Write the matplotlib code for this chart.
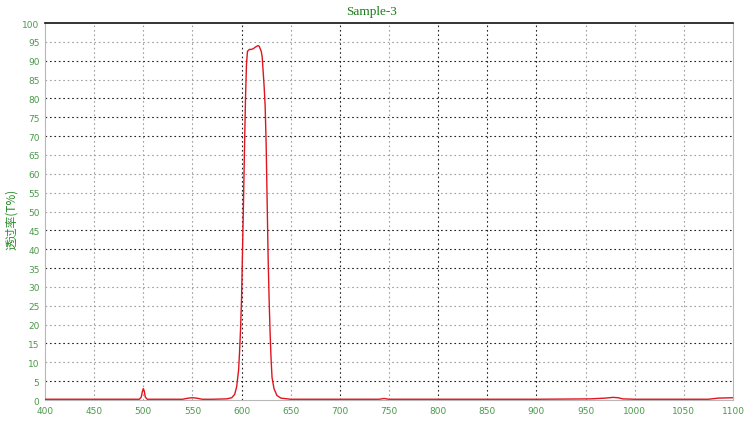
import matplotlib.pyplot as plt

# wavelength (nm) and transmittance (%)
wavelength = [400, 450, 496, 498, 499, 500, 501, 502, 504, 540, 546, 550, 554, 560,
              570, 585, 590, 593, 595, 597, 598, 599, 600, 601, 602, 603, 604, 605,
              606, 608, 610, 612, 614, 616, 617, 618, 620, 621, 622, 623, 624, 625,
              626, 627, 628, 629, 630, 631, 633, 636, 640, 650, 700, 740, 745, 750,
              800, 900, 955, 970, 978, 983, 988, 1000, 1075, 1085, 1100]
transmit = [0.2, 0.2, 0.2, 0.8, 2.2, 3.0, 2.4, 0.8, 0.2, 0.2, 0.5, 0.6, 0.5, 0.2,
            0.2, 0.3, 0.6, 1.5, 3.5, 8, 13, 19, 27, 40, 53, 67, 80, 89,
            92.5, 93, 93, 93.2, 93.6, 93.9, 94, 93.8, 92.5, 91, 87, 83, 78, 68,
            53, 38, 27, 18, 11, 6, 3, 1.2, 0.5, 0.2, 0.2, 0.2, 0.4, 0.2,
            0.2, 0.2, 0.3, 0.5, 0.7, 0.6, 0.3, 0.2, 0.2, 0.5, 0.6]

x_ticks = list(range(400, 1101, 50))
y_ticks = list(range(0, 101, 5))
dark_x = [600, 700, 800, 850, 900]
dark_y = [5, 15, 35, 40, 45, 70, 75, 80, 90]

green = "#4a9a4a"

fig = plt.figure(figsize=(7.5, 4.31), dpi=100)
ax = fig.add_axes([0.06, 0.0696, 0.9173, 0.8747])

for xv in x_ticks[1:-1]:
    c = "#222222" if xv in dark_x else "#a0a0a0"
    ax.axvline(xv, color=c, linestyle=(0, (1.5, 2.5)), linewidth=0.8, zorder=1)
for yv in y_ticks[1:-1]:
    c = "#222222" if yv in dark_y else "#a0a0a0"
    ax.axhline(yv, color=c, linestyle=(0, (1.5, 2.5)), linewidth=0.8, zorder=1)

ax.plot(wavelength, transmit, color="#e0141e", linewidth=1.0, zorder=3)

ax.set_xlim(400, 1100)
ax.set_ylim(0, 100)
ax.set_xticks(x_ticks)
ax.set_yticks(y_ticks)
ax.tick_params(length=0, labelsize=6.5, colors=green)
ax.tick_params(axis="x", pad=4)
ax.tick_params(axis="y", pad=4)

for s in ["left", "bottom", "right"]:
    ax.spines[s].set_color("#b8b8b8")
ax.spines["top"].set_color("#111111")
ax.spines["top"].set_linewidth(1.2)

fig.text(0.495, 0.972, "Sample-3", ha="center", va="center", color="#1a7a1a",
         fontsize=9.5, family="Liberation Serif")
fig.text(0.015, 0.49, "透过率(T%)", rotation=90, ha="center", va="center",
         color="#2a8a2a", fontsize=8.5, family=["Noto Sans CJK SC", "DejaVu Sans"])

fig.savefig("out.png", dpi=100)
